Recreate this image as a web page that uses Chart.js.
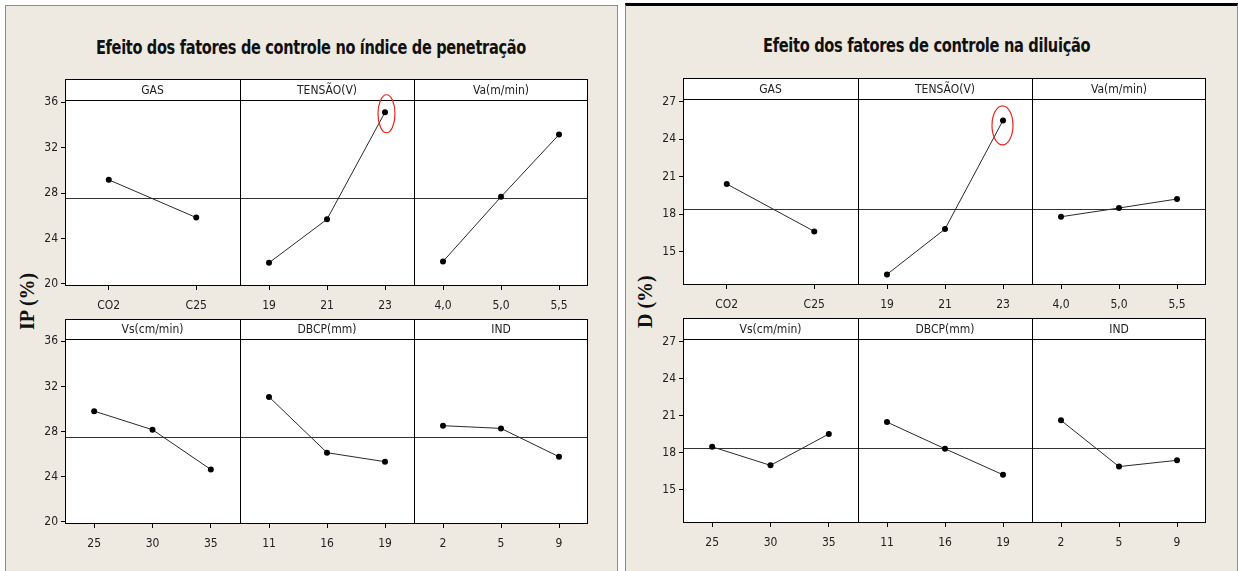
<!DOCTYPE html>
<html>
<head>
<meta charset="utf-8">
<script src="https://cdn.jsdelivr.net/npm/chart.js@4.4.1/dist/chart.umd.min.js"></script>
<style>
    html, body { margin: 0; padding: 0; background: #fff; }
    #page { position: relative; width: 1238px; height: 571px; overflow: hidden; background: #fff; }
    .frame { position: absolute; background: #eeeae2; box-sizing: border-box; }
    #frameLeft { left: 5px; top: 5px; width: 613px; height: 600px; border: 1px solid #8c8c8c; }
    #frameRight { left: 625px; top: 3px; width: 613px; height: 600px; border-left: 1px solid #8c8c8c; border-right: 1px solid #8c8c8c; border-top: 3px solid #000; }
    .title { position: absolute; white-space: nowrap; font-family: 'Liberation Sans Narrow', 'Arial Narrow', 'DejaVu Sans Condensed', sans-serif; font-weight: bold; font-size: 20px; color: #111; letter-spacing: -0.4px; transform-origin: 0 0; }
    .ylab { position: absolute; white-space: nowrap; font-family: 'Liberation Serif', 'DejaVu Serif', serif; font-weight: bold; font-size: 20px; color: #111; transform-origin: 0 0; }
    canvas { position: absolute; }
</style>
</head>
<body>
<div id="page">
    <div class="frame" id="frameLeft"></div>
    <div class="frame" id="frameRight"></div>
</div>
<script>
(function () {
    'use strict';

    /* ── data ── */
    var ipTitle = 'Efeito dos fatores de controle no índice de penetração';
    var dTitle = 'Efeito dos fatores de controle na diluição';
    var ipAxisLabel = 'IP (%)';
    var dAxisLabel = 'D (%)';

    var factorNames = ['GAS', 'TENSÃO(V)', 'Va(m/min)', 'Vs(cm/min)', 'DBCP(mm)', 'IND'];
    var gasLevels = ['CO2', 'C25'];
    var tensaoLevels = ['19', '21', '23'];
    var vaLevels = ['4,0', '5,0', '5,5'];
    var vsLevels = ['25', '30', '35'];
    var dbcpLevels = ['11', '16', '19'];
    var indLevels = ['2', '5', '9'];

    var ipGas = [29.17, 25.84];
    var ipTensao = [21.86, 25.69, 35.12];
    var ipVa = [21.97, 27.67, 33.15];
    var ipVs = [29.81, 28.16, 24.64];
    var ipDbcp = [31.07, 26.13, 25.33];
    var ipInd = [28.52, 28.28, 25.77];
    var ipMean = 27.55;
    var ipTicks = [20, 24, 28, 32, 36];

    var dGas = [20.40, 16.61];
    var dTensao = [13.17, 16.80, 25.49];
    var dVa = [17.78, 18.48, 19.20];
    var dVs = [18.48, 16.98, 19.52];
    var dDbcp = [20.48, 18.32, 16.22];
    var dInd = [20.62, 16.88, 17.39];
    var dMean = 18.40;
    var dTicks = [15, 18, 21, 24, 27];

    var levelSets = [gasLevels, tensaoLevels, vaLevels, vsLevels, dbcpLevels, indLevels];

    /* ── layout ── */
    var FONT = "'Liberation Sans Narrow', 'Arial Narrow', 'DejaVu Sans Condensed', sans-serif";
    var Y_AXIS_W = 45;
    var X_AXIS_H = 32;

    var halves = [
        {
            title: ipTitle, titleCx: 311, titleCy: 47, titleW: 430,
            axisLabel: ipAxisLabel, labelCx: 27, labelCy: 301,
            cols: [65, 240, 414, 588],
            rows: [{ top: 79, strip: 21, bottom: 285 }, { top: 319, strip: 20, bottom: 523 }],
            min: 19.9, max: 36.2, ticks: ipTicks, mean: ipMean,
            series: [ipGas, ipTensao, ipVa, ipVs, ipDbcp, ipInd],
            mark: { dx: 1.5, dy: 1.5, rx: 8.5, ry: 19 }
        },
        {
            title: dTitle, titleCx: 926, titleCy: 45, titleW: 327,
            axisLabel: dAxisLabel, labelCx: 645, labelCy: 301,
            cols: [683, 858, 1032, 1206],
            rows: [{ top: 78, strip: 21, bottom: 284 }, { top: 318, strip: 21, bottom: 522 }],
            min: 12.4, max: 27.2, ticks: dTicks, mean: dMean,
            series: [dGas, dTensao, dVa, dVs, dDbcp, dInd],
            mark: { dx: -0.5, dy: 5, rx: 10.5, ry: 19.5 }
        }
    ];

    var page = document.getElementById('page');

    /* ── plugin: strip header, frame, mean line, red mark ── */
    var panelPlugin = {
        id: 'panelFrame',
        beforeDraw: function (chart, args, opts) {
            var ctx = chart.ctx;
            var a = chart.chartArea;
            ctx.save();
            ctx.fillStyle = '#fff';
            ctx.fillRect(a.left, a.top - opts.strip, a.right - a.left, a.bottom - a.top + opts.strip);
            ctx.restore();
        },
        beforeDatasetsDraw: function (chart, args, opts) {
            var ctx = chart.ctx;
            var a = chart.chartArea;
            var y = Math.round(chart.scales.y.getPixelForValue(opts.mean)) + 0.5;
            ctx.save();
            ctx.strokeStyle = '#333';
            ctx.lineWidth = 1;
            ctx.beginPath();
            ctx.moveTo(a.left, y);
            ctx.lineTo(a.right, y);
            ctx.stroke();
            ctx.restore();
        },
        afterDraw: function (chart, args, opts) {
            var ctx = chart.ctx;
            var a = chart.chartArea;
            var top = a.top - opts.strip;
            ctx.save();
            ctx.strokeStyle = '#000';
            ctx.lineWidth = 1;
            ctx.beginPath();
            ctx.moveTo(a.left, top + 0.5);
            ctx.lineTo(a.right, top + 0.5);
            ctx.moveTo(a.left, a.top + 0.5);
            ctx.lineTo(a.right, a.top + 0.5);
            ctx.moveTo(a.left, a.bottom + 0.5);
            ctx.lineTo(a.right, a.bottom + 0.5);
            ctx.moveTo(a.left + 0.5, top);
            ctx.lineTo(a.left + 0.5, a.bottom + 1);
            if (opts.last) {
                ctx.moveTo(a.right - 0.5, top);
                ctx.lineTo(a.right - 0.5, a.bottom + 1);
            }
            ctx.stroke();

            ctx.fillStyle = '#222';
            ctx.font = '12px ' + FONT;
            ctx.textAlign = 'center';
            ctx.textBaseline = 'middle';
            ctx.fillText(opts.title, (a.left + a.right) / 2, top + opts.strip / 2 + 1);

            if (opts.mark) {
                var pt = chart.getDatasetMeta(0).data[2];
                ctx.strokeStyle = '#e8231f';
                ctx.lineWidth = 1.2;
                ctx.beginPath();
                ctx.ellipse(pt.x + opts.mark.dx, pt.y + opts.mark.dy, opts.mark.rx, opts.mark.ry, 0, 0, Math.PI * 2);
                ctx.stroke();
            }
            ctx.restore();
        }
    };

    function makePanel(half, r, c) {
        var idx = r * 3 + c;
        var row = half.rows[r];
        var first = c === 0;
        var last = c === 2;
        var left = half.cols[c];
        var width = half.cols[c + 1] - left;
        var plotH = row.bottom - (row.top + row.strip);

        var canvas = document.createElement('canvas');
        var cLeft = first ? left - Y_AXIS_W : left;
        var cWidth = first ? width + Y_AXIS_W : width;
        var cHeight = row.strip + plotH + X_AXIS_H;
        canvas.width = cWidth;
        canvas.height = cHeight;
        canvas.style.left = cLeft + 'px';
        canvas.style.top = row.top + 'px';
        canvas.style.width = cWidth + 'px';
        canvas.style.height = cHeight + 'px';
        page.appendChild(canvas);

        var tickVals = half.ticks;

        return new Chart(canvas, {
            type: 'line',
            data: {
                labels: levelSets[idx],
                datasets: [{
                    data: half.series[idx],
                    borderColor: '#2a2a2a',
                    borderWidth: 1,
                    pointRadius: 3,
                    pointBackgroundColor: '#000',
                    pointBorderColor: '#000',
                    pointBorderWidth: 0,
                    tension: 0,
                    clip: false
                }]
            },
            plugins: [panelPlugin],
            options: {
                responsive: false,
                animation: false,
                events: [],
                devicePixelRatio: 1,
                layout: { autoPadding: false, padding: { top: row.strip, left: 0, right: 0, bottom: 0 } },
                plugins: {
                    legend: { display: false },
                    tooltip: { enabled: false },
                    panelFrame: {
                        title: factorNames[idx],
                        strip: row.strip,
                        mean: half.mean,
                        last: last,
                        mark: idx === 1 ? half.mark : null
                    }
                },
                scales: {
                    x: {
                        type: 'category',
                        offset: true,
                        border: { display: false },
                        grid: { offset: false, drawOnChartArea: false, drawTicks: true, tickLength: 5, color: '#000' },
                        ticks: { color: '#222', font: { family: FONT, size: 12 }, padding: 9, maxRotation: 0, autoSkip: false },
                        afterFit: function (s) { s.height = X_AXIS_H; }
                    },
                    y: {
                        type: 'linear',
                        display: first,
                        min: half.min,
                        max: half.max,
                        border: { display: false },
                        grid: { drawOnChartArea: false, drawTicks: true, tickLength: 4, color: '#000' },
                        ticks: { color: '#222', font: { family: FONT, size: 12 }, padding: 3 },
                        afterBuildTicks: function (s) {
                            s.ticks = tickVals.map(function (v) { return { value: v }; });
                        },
                        afterFit: function (s) { s.width = first ? Y_AXIS_W : 0; }
                    }
                }
            }
        });
    }

    function addText(cls, text, cx, cy, targetW, rotate) {
        var el = document.createElement('div');
        el.className = cls;
        el.textContent = text;
        page.appendChild(el);
        var w = el.offsetWidth;
        var h = el.offsetHeight;
        var sx = targetW ? targetW / w : 1;
        if (rotate) {
            el.style.left = (cx - h / 2) + 'px';
            el.style.top = (cy + w / 2) + 'px';
            el.style.transform = 'rotate(-90deg)';
        } else {
            el.style.left = (cx - w * sx / 2) + 'px';
            el.style.top = (cy - h / 2) + 'px';
            el.style.transform = 'scaleX(' + sx + ')';
        }
    }

    halves.forEach(function (half) {
        addText('title', half.title, half.titleCx, half.titleCy, half.titleW, false);
        addText('ylab', half.axisLabel, half.labelCx, half.labelCy, 0, true);
        for (var r = 0; r < 2; r++) {
            for (var c = 0; c < 3; c++) {
                makePanel(half, r, c);
            }
        }
    });
})();
</script>
</body>
</html>
